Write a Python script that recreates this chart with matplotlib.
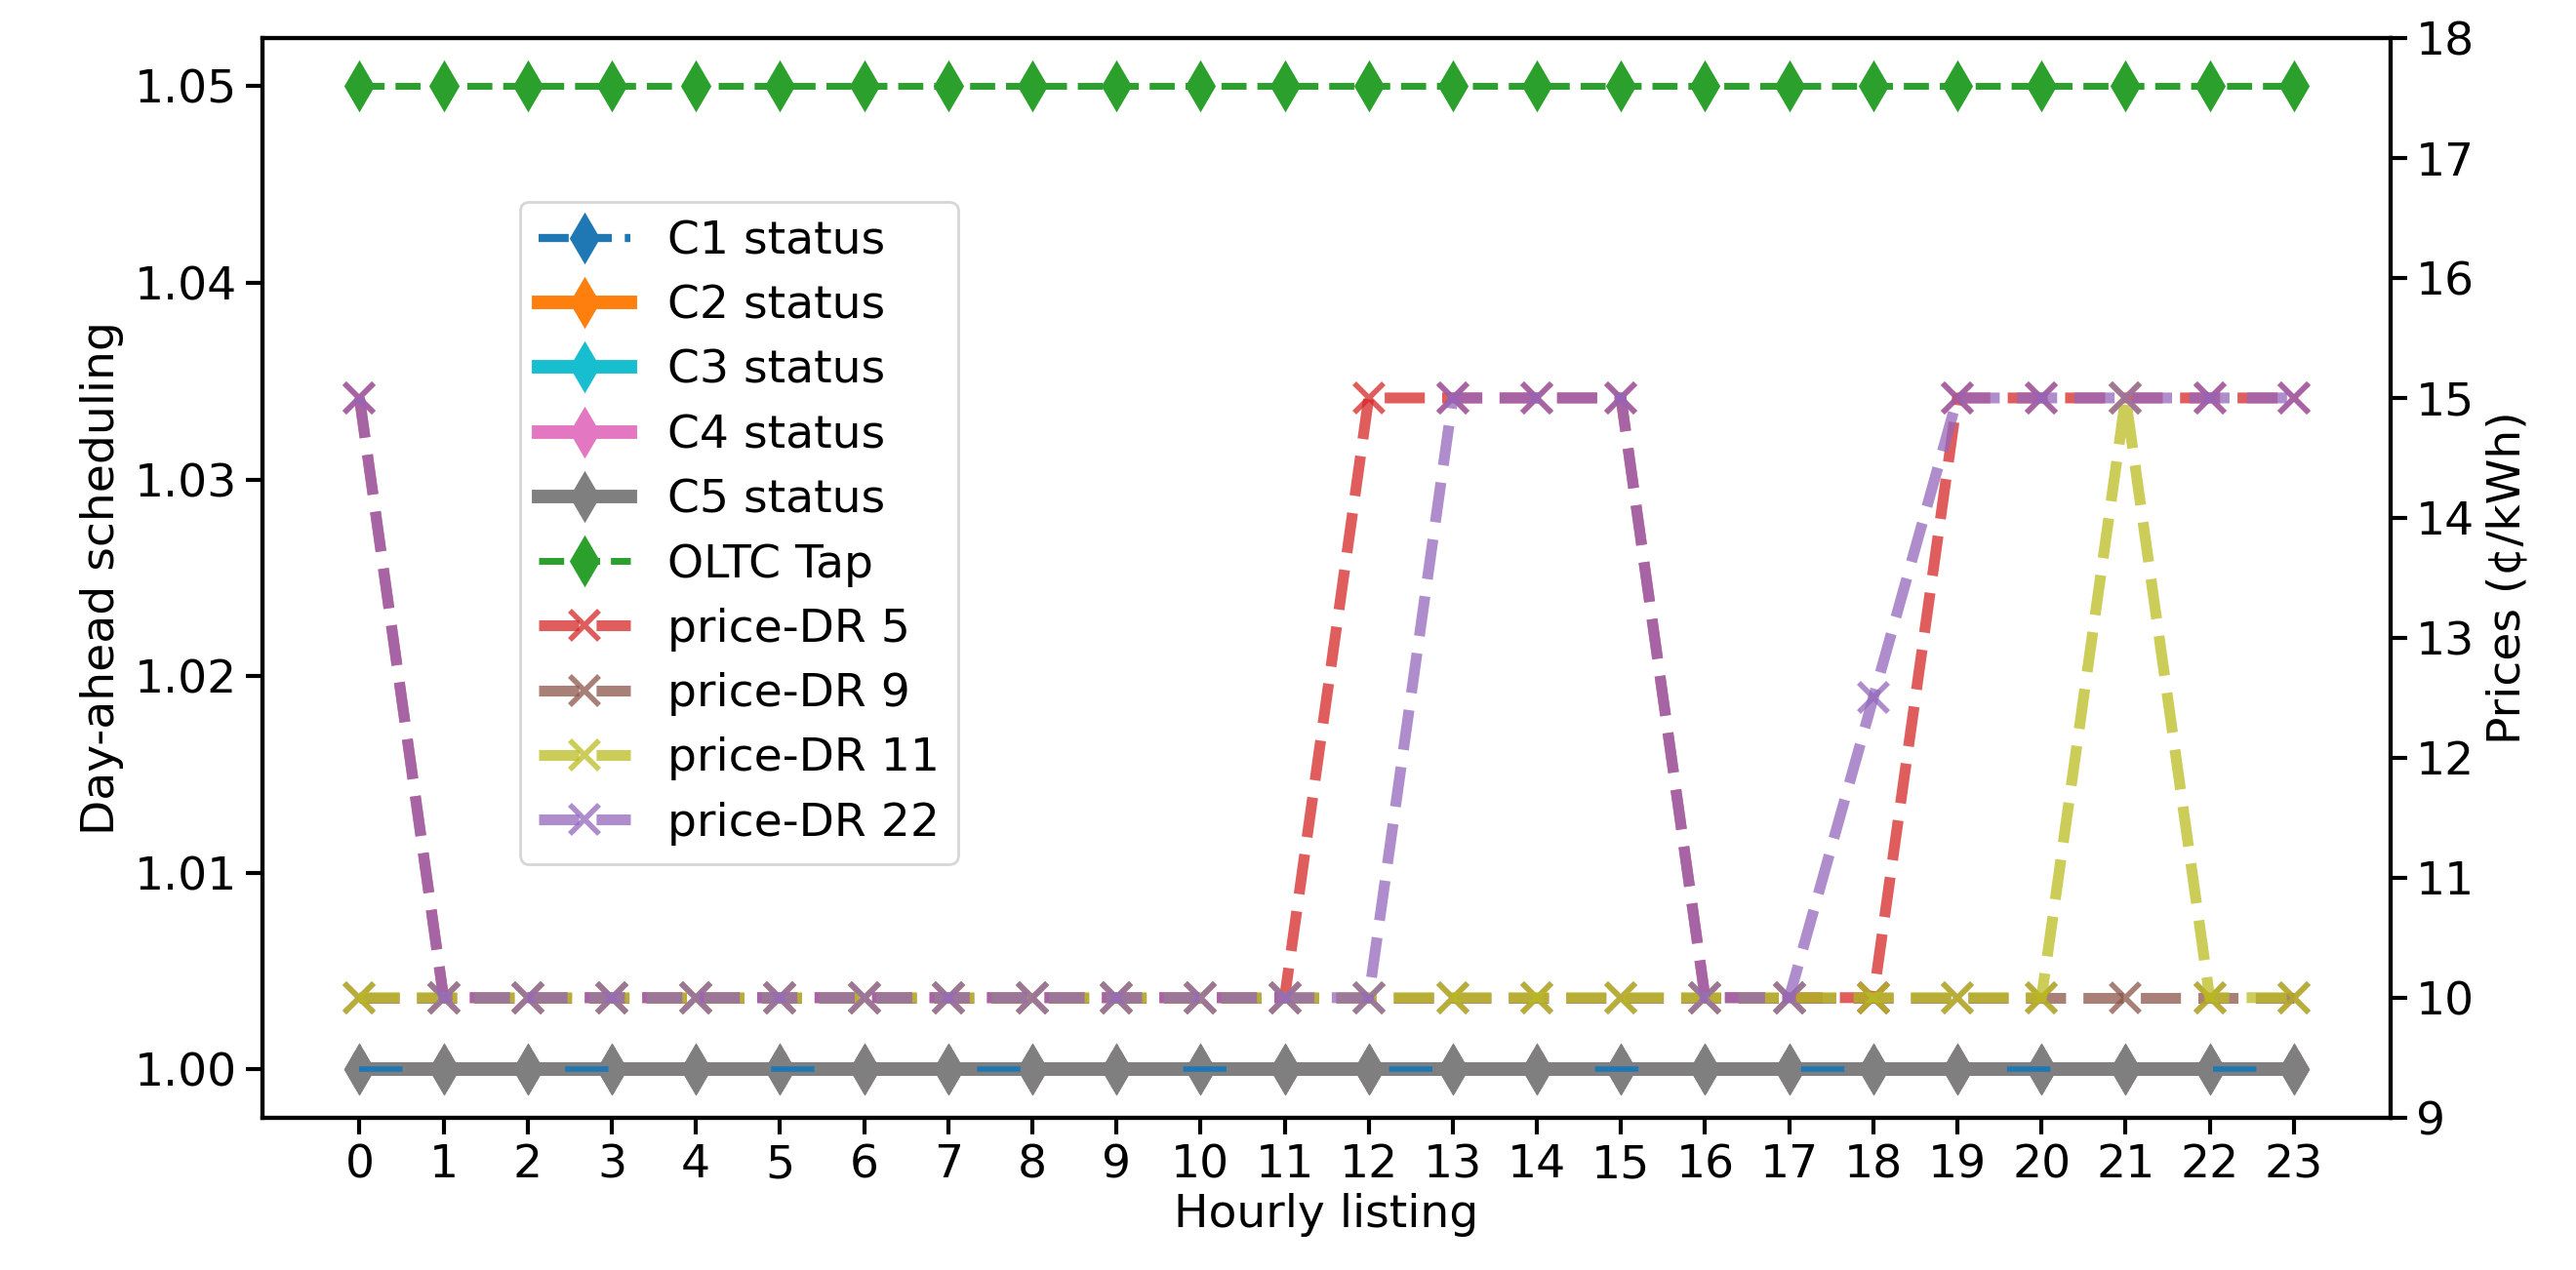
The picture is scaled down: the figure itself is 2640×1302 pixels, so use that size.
import matplotlib.pyplot as plt

hours = list(range(24))
c_status = [1.0] * 24
oltc_tap = [1.05] * 24
dr5 = [15] + [10] * 11 + [15, 15, 15, 15, 10, 10, 10] + [15] * 5
dr9 = [10] * 24
dr11 = [10] * 21 + [15, 10, 10]
dr22 = [15] + [10] * 12 + [15, 15, 15, 10, 10, 12.5] + [15] * 5

fig = plt.figure(figsize=(13.2, 6.51), dpi=200)
ax = fig.add_axes([0.102, 0.12, 0.826, 0.85])
ax2 = ax.twinx()

fs = 17
ax.plot(hours, c_status, '--d', color='tab:blue', lw=3, ms=12, label='C1 status')
ax.plot(hours, c_status, '-d', color='tab:orange', lw=5, ms=12, label='C2 status')
ax.plot(hours, c_status, '-d', color='tab:cyan', lw=5, ms=12, label='C3 status')
ax.plot(hours, c_status, '-d', color='tab:pink', lw=5, ms=12, label='C4 status')
ax.plot(hours, c_status, '-d', color='tab:gray', lw=5, ms=12, label='C5 status')
# C1 is dashed and drawn on top of the solid ones in the original
ax.plot(hours, c_status, '--', color='tab:blue', lw=2, dashes=(8, 30))
ax.plot(hours, oltc_tap, '--d', color='tab:green', lw=2.5, ms=12, label='OLTC Tap')

ax2.plot(hours, dr5, '--x', color='tab:red', lw=4, ms=11, mew=2, alpha=0.75, label='price-DR 5')
ax2.plot(hours, dr9, '--x', color='tab:brown', lw=4, ms=11, mew=2, alpha=0.75, label='price-DR 9')
ax2.plot(hours, dr11, '--x', color='tab:olive', lw=4, ms=11, mew=2, alpha=0.75, label='price-DR 11')
ax2.plot(hours, dr22, '--x', color='tab:purple', lw=4, ms=11, mew=2, alpha=0.75, label='price-DR 22')

ax.set_ylim(0.99755, 1.05245)
ax2.set_ylim(9, 18)
ax.set_xticks(hours)
ax.set_yticks([1.00, 1.01, 1.02, 1.03, 1.04, 1.05])
ax.set_yticklabels(['1.00', '1.01', '1.02', '1.03', '1.04', '1.05'])
ax.tick_params(labelsize=fs, length=6, width=1.5)
ax2.tick_params(labelsize=fs, length=6, width=1.5)
ax.set_xlabel('Hourly listing', fontsize=fs, labelpad=2)
ax.set_ylabel('Day-ahead scheduling', fontsize=fs)
ax2.set_ylabel('Prices (¢/kWh)', fontsize=fs)
for a in (ax, ax2):
    for s in a.spines.values():
        s.set_linewidth(1.5)

h1, l1 = ax.get_legend_handles_labels()
h2, l2 = ax2.get_legend_handles_labels()
ax2.legend(h1 + h2, l1 + l2, fontsize=fs, loc='upper left',
           bbox_to_anchor=(0.11, 0.87), handlelength=2, labelspacing=0.45)

fig.savefig('out.png')
